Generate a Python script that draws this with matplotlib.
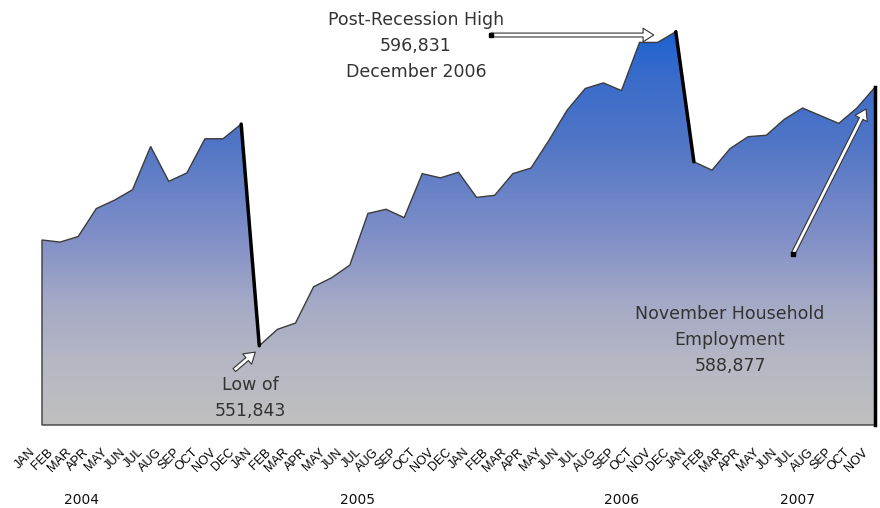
import matplotlib
matplotlib.use('Agg')
import matplotlib.pyplot as plt
import numpy as np
from matplotlib.colors import LinearSegmentedColormap
from matplotlib.patches import Polygon
from matplotlib.transforms import ScaledTranslation, blended_transform_factory

# household employment, jan 2004 - nov 2007
values = [567000, 566700, 567500, 571500, 572700, 574200, 580400, 575400,
          576600, 581500, 581500, 583600,
          551843, 554200, 555100, 560300, 561600, 563400, 570800, 571400,
          570200, 576500, 575900, 576700,
          573100, 573400, 576500, 577300, 581300, 585600, 588700, 589500,
          588400, 595300, 595300, 596831,
          578200, 577000, 580100, 581800, 582000, 584300, 585900, 584800,
          583700, 585900, 588877]
month_names = ['JAN', 'FEB', 'MAR', 'APR', 'MAY', 'JUN',
               'JUL', 'AUG', 'SEP', 'OCT', 'NOV', 'DEC']
months = (month_names * 4)[:len(values)]
years = ['2004', '2005', '2006', '2007']
year_pos = [2.2, 17.4, 32.0, 41.7]

ymin, ymax = 540500, 600000
low_i = values.index(min(values))
peak_i = values.index(max(values))
last_i = len(values) - 1

fig = plt.figure(figsize=(8.8, 5.08), dpi=100)
ax = fig.add_axes([0.0477, 0.1634, 0.9466, 0.8177])
x = np.arange(len(values))


def shifted(dx, dy):
    # data transform moved by some pixels
    return ax.transData + ScaledTranslation(dx / 100, dy / 100, fig.dpi_scale_trans)


# area shape, used as clip for the gradient
px = np.concatenate([[0], x, [x[-1]]])
py = np.concatenate([[ymin], values, [ymin]])
area = Polygon(np.column_stack([px, py]), closed=True, facecolor='none',
               edgecolor='#3c3c3c', lw=1, zorder=3, clip_on=False)
ax.add_patch(area)

cmap = LinearSegmentedColormap.from_list('blue_gray', [
    (0.0, '#c0c0c0'), (0.165, '#b5b7c4'), (0.32, '#a3a8c6'),
    (0.47, '#8290c8'), (0.72, '#5075c6'), (0.88, '#3a6cca'),
    (1.0, '#1c62d0')])
grad = np.linspace(0, 1, 256).reshape(-1, 1)
img = ax.imshow(grad, cmap=cmap, origin='lower', aspect='auto',
                extent=[0, last_i, ymin, max(values)], zorder=2)
img.set_clip_path(area)

# big drops drawn heavier
for i in range(len(values) - 1):
    if values[i] - values[i + 1] > 15000:
        ax.plot([x[i], x[i + 1]], [values[i], values[i + 1]], color='black',
                lw=2.5, zorder=4, solid_capstyle='round')
ax.plot([x[-1], x[-1]], [ymin, values[-1]], color='black', lw=2.5, zorder=4,
        clip_on=False)

ax.set_xlim(0, last_i)
ax.set_ylim(ymin, ymax)
ax.axis('off')

# month labels
trans = blended_transform_factory(ax.transData, ax.transAxes)
off = ScaledTranslation(-13 / 100, -21 / 100, fig.dpi_scale_trans)
for i, m in enumerate(months):
    ax.text(x[i], 0, m, transform=trans + off, rotation=45, ha='right',
            va='top', rotation_mode='anchor', fontsize=9,
            family='Liberation Sans', color='black')
yoff = ScaledTranslation(0, -75 / 100, fig.dpi_scale_trans)
for p, yr in zip(year_pos, years):
    ax.text(p, 0, yr, transform=trans + yoff, ha='center', va='center',
            fontsize=10, color='#111111')

# annotations: (index, head shift px, tail offset px)
arrow = dict(arrowstyle='simple,head_length=0.55,head_width=0.7,tail_width=0.2',
             fc='white', ec='#333333', lw=0.8, shrinkA=0, shrinkB=0,
             mutation_scale=14)
notes = [(peak_i, (-22, -3.3), (-163, 0), True),
         (low_i, (-4, -6.3), (-21, -18), False),
         (last_i, (-9, -21.7), (-73, -145), True)]
for i, (hx, hy), (tx, ty), dot in notes:
    ax.annotate('', xy=(x[i], values[i]), xycoords=shifted(hx, hy),
                xytext=(tx * 0.72, ty * 0.72), textcoords='offset points',
                arrowprops=arrow)
    if dot:
        ax.plot(x[i], values[i], marker='s', ms=3, color='black',
                transform=shifted(hx + tx, hy + ty), clip_on=False, zorder=5)

tc = '#333333'
fig.text(416 / 880, 1 - 46 / 508,
         'Post-Recession High\n{:,}\nDecember 2006'.format(values[peak_i]),
         ha='center', va='center', fontsize=12.5, color=tc, linespacing=1.6)
fig.text(250 / 880, 1 - 398 / 508, 'Low of\n{:,}'.format(values[low_i]),
         ha='center', va='center', fontsize=12.5, color=tc, linespacing=1.6)
fig.text(730 / 880, 1 - 340 / 508,
         'November Household\nEmployment\n{:,}'.format(values[last_i]),
         ha='center', va='center', fontsize=12.5, color=tc, linespacing=1.6)

fig.savefig('out.png', dpi=100)
